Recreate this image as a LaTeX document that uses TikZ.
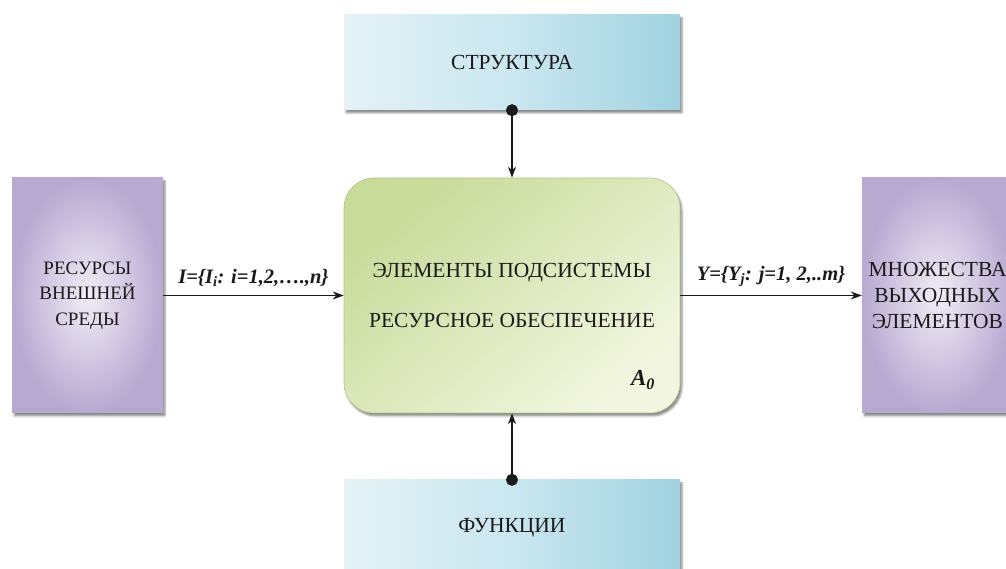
\documentclass[tikz,border=0pt]{standalone}
\usepackage{fontspec}
\setmainfont{Liberation Serif}
\usetikzlibrary{shadows.blur,arrows.meta,positioning}
\definecolor{ink}{HTML}{1A1A1A}
\definecolor{lilacLt}{HTML}{F1EDF6}
\definecolor{lilacDk}{HTML}{B8A9D1}
\definecolor{skyLt}{HTML}{E4F2F6}
\definecolor{skyMd}{HTML}{CAE7F0}
\definecolor{skyDk}{HTML}{A0D3E0}
\definecolor{leafLt}{HTML}{F2F6E0}
\definecolor{leafDk}{HTML}{C8DB99}
\definecolor{leafEdge}{HTML}{B2C585}

\begin{document}
\begin{tikzpicture}[x=1pt,y=1pt,
    shad/.style={blur shadow={shadow xshift=2pt,shadow yshift=-3pt,shadow blur steps=5,shadow opacity=45}},
    bar/.style={shad, minimum width=336pt, minimum height=95pt, inner sep=0pt, text=ink,
        left color=skyLt, right color=skyDk, middle color=skyMd,
        font=\fontsize{21.5}{25}\selectfont},
    side/.style={shad, minimum width=151pt, minimum height=235pt, inner sep=0pt, text=ink,
        inner color=lilacLt, outer color=lilacDk, align=center,
        font=\fontsize{19}{25.5}\selectfont},
    core/.style={shad, minimum width=336pt, minimum height=235pt, inner sep=0pt, text=ink,
        rounded corners=30pt, draw=leafEdge, line width=0.6pt,
        top color=leafDk, bottom color=leafLt, shading angle=40, align=center,
        font=\fontsize{21.5}{50}\selectfont},
    lbl/.style={text=ink, font=\fontsize{20.5}{22}\selectfont\bfseries\itshape},
    flow/.style={draw=ink, line width=1.5pt, -{Stealth[length=11pt,width=8pt]}},
    tie/.style={flow, {Circle[length=12pt]}-{Stealth[length=11pt,width=8pt]}, shorten <=-6pt}]
  \useasboundingbox (0,0) rectangle (1006,569);

  % boxes
  \node[bar] (struct) at (512,506.5) {СТРУКТУРА};
  \node[bar] (func) at (512,41.5) {ФУНКЦИИ};
  \node[core] (core) at (512,273.5) {ЭЛЕМЕНТЫ ПОДСИСТЕМЫ\\РЕСУРСНОЕ ОБЕСПЕЧЕНИЕ};
  \node[lbl, font=\fontsize{23}{24}\selectfont\bfseries\itshape] (idx) at (643,189) {A\textsubscript{0}};
  \node[side] (res) at (87.5,273.5) {РЕСУРСЫ\\ВНЕШНЕЙ\\СРЕДЫ};
  \node[side, font=\fontsize{21.5}{26}\selectfont] (out) at (937.5,273.5) {МНОЖЕСТВА\\ВЫХОДНЫХ\\ЭЛЕМЕНТОВ};

  % connectors
  \draw[flow] (res) -- node[lbl, above=5pt] {I=\{I\textsubscript{i}: i=1,2,….,n\}} (core);
  \draw[flow] (core) -- node[lbl, above=5pt] {Y=\{Y\textsubscript{j}: j=1, 2,..m\}} (out);
  \draw[tie] (struct.south) -- (core.north);
  \draw[tie] (func.north) -- (core.south);
\end{tikzpicture}
\end{document}
